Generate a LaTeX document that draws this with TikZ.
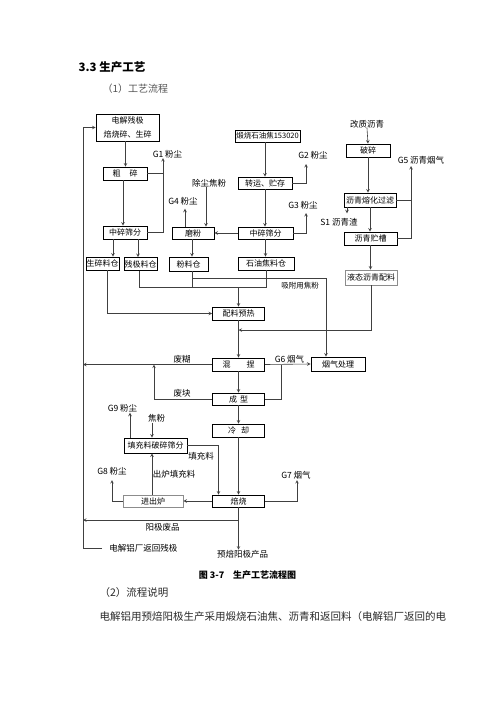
\documentclass[tikz,border=0pt]{standalone}
\usepackage{fontspec}
\setmainfont{Noto Sans CJK SC}
\usetikzlibrary{positioning}
\definecolor{FlowLine}{HTML}{404040}
\definecolor{FlowPale}{HTML}{8C8C8C}
\definecolor{HeadGray}{HTML}{555555}
\definecolor{BodyGray}{HTML}{2A2A2A}
\begin{document}
\begin{tikzpicture}[>=stealth,x=1pt,y=-1pt,line width=0.6pt]
  \tikzstyle{proc}=[draw,line width=0.7pt,inner sep=0pt,minimum height=13pt,
    align=center,font=\fontsize{8}{10}\selectfont]
  \tikzstyle{pale}=[proc,draw=FlowPale]
  \tikzstyle{lbl}=[inner sep=0pt,font=\fontsize{8.5}{10}\selectfont]
  \tikzstyle{flow}=[->,color=FlowLine]
  \tikzstyle{link}=[color=FlowLine]
  \fill[white] (0,0) rectangle (496,702);
  \useasboundingbox (0,0) rectangle (496,702);

  % page text
  \node[anchor=west,font=\fontsize{11.5}{13}\selectfont\bfseries] (head) at (75,67) {3.3\ 生产工艺};
  \node[anchor=west,text=HeadGray,font=\fontsize{10}{12}\selectfont] (sub1) at (99,89) {（1）工艺流程};
  \node[font=\fontsize{9}{11}\selectfont\bfseries] (cap) at (247.5,575) {图 3-7\quad 生产工艺流程图};
  \node[anchor=west,text=BodyGray,font=\fontsize{10.5}{12}\selectfont] (sub2) at (96,593) {（2）流程说明};
  \node[anchor=west,text=BodyGray,font=\fontsize{10.5}{12}\selectfont] (para) at (96,617)
    {电解铝用预焙阳极生产采用煅烧石油焦、沥青和返回料（电解铝厂返回的电};

  % process boxes
  \node[proc,minimum width=63pt,minimum height=27pt,font=\fontsize{8}{14}\selectfont] (cj) at (127.5,127.5) {电解残极\\焙烧碎、生碎};
  \node[proc,minimum width=44pt] (cs) at (125,173.5) {粗\hspace{9pt}碎};
  \node[proc,minimum width=44pt] (zsa) at (125,232.5) {中碎筛分};
  \node[proc,minimum width=33pt] (scc) at (102.5,263.5) {生碎料仓};
  \node[proc,minimum width=33pt] (cjc) at (140.5,264) {残极料仓};
  \node[proc,minimum width=42pt,minimum height=12pt] (mf) at (193,233) {磨粉};
  \node[proc,minimum width=39pt,minimum height=14pt] (flc) at (188.5,264) {粉料仓};
  \node[proc,minimum width=65pt,minimum height=12pt,font=\fontsize{7.5}{9}\selectfont] (dsj) at (267.5,136) {煅烧石油焦153020};
  \node[proc,minimum width=54pt,minimum height=12pt] (zy) at (265,183) {转运、贮存};
  \node[proc,minimum width=55pt,minimum height=12pt] (zsb) at (265.5,233) {中碎筛分};
  \node[proc,minimum width=56pt] (syj) at (266,263.5) {石油焦料仓};
  \node[proc,minimum width=44pt] (ps) at (368,150.5) {破碎};
  \node[proc,minimum width=52pt,minimum height=14pt] (rhl) at (370,200) {沥青熔化过滤};
  \node[proc,minimum width=53pt] (lqc) at (370.5,238.5) {沥青贮槽};
  \node[pale,minimum width=52pt,minimum height=15pt] (ytl) at (371,277.5) {液态沥青配料};
  \node[proc,minimum width=52pt] (plr) at (238.5,313.5) {配料预热};
  \node[proc,minimum width=52pt] (hn) at (238.5,364.5) {混\hspace{16pt}捏};
  \node[proc,minimum width=54pt,minimum height=14pt] (yqc) at (338,364) {烟气处理};
  \node[proc,minimum width=52pt,minimum height=12pt] (cx) at (238.5,399) {成\hspace{3pt}型};
  \node[proc,minimum width=52pt] (lque) at (238.5,430.5) {冷\hspace{5pt}却};
  \node[proc,minimum width=52pt,minimum height=12pt] (bs) at (238.5,501) {焙烧};
  \node[pale,minimum width=60pt,minimum height=12pt] (jcl) at (153,501) {进出炉};
  \node[proc,minimum width=63pt,minimum height=15pt] (tcs) at (155.5,445.5) {填充料破碎筛分};

  % labels
  \node[lbl] (gzq) at (367,124) {改质沥青};
  \node[lbl] (g1t) at (167.5,154) {G1 粉尘};
  \node[lbl] (g2t) at (313,155) {G2 粉尘};
  \node[lbl] (g3t) at (303,205) {G3 粉尘};
  \node[lbl] (g4t) at (183,201) {G4 粉尘};
  \node[lbl] (g5t) at (421,160) {G5 沥青烟气};
  \node[lbl] (ccj) at (209,183) {除尘焦粉};
  \node[lbl] (s1t) at (339,222) {S1 沥青渣};
  \node[lbl,font=\fontsize{7.5}{9}\selectfont] (adt) at (300,286) {吸附用焦粉};
  \node[lbl] (fht) at (182,359) {废糊};
  \node[lbl] (g6t) at (289.5,359) {G6 烟气};
  \node[lbl] (fkt) at (182,393) {废块};
  \node[lbl] (g9t) at (122.5,408) {G9 粉尘};
  \node[lbl] (jf) at (156.5,418.5) {焦粉};
  \node[lbl] (tct) at (201,456) {填充料};
  \node[lbl] (g8t) at (112,471) {G8 粉尘};
  \node[lbl] (clt) at (174,474) {出炉填充料};
  \node[lbl] (g7t) at (296,475) {G7 烟气};
  \node[lbl] (fpt) at (162.5,527) {阳极废品};
  \node[lbl,anchor=west] (fh) at (109,548) {电解铝厂返回残极};
  \node[lbl] (cp) at (242.5,554) {预焙阳极产品};

  % free ends and junctions
  \coordinate (L) at (83,548);
  \coordinate (g1) at (163,158);
  \coordinate (g2) at (306,164);
  \coordinate (g3) at (306,213);
  \coordinate (g5) at (411,166);
  \coordinate (g7) at (297,480);
  \coordinate (g8) at (112,480);
  \coordinate (bus) at (238.5,287);
  \coordinate (ads) at (192,278);
  \coordinate (jn) at (238.5,330);
  \coordinate (g6j) at (281,364.5);
  \coordinate (fk) at (154,364.5);
  \coordinate (fp) at (238.5,520);

  % anode scrap return and coarse crushing
  \draw[flow] ([xshift=-7pt]fh.west) -- (L) |- (cj.west);
  \draw[flow] ([xshift=-2pt]cj.south) -- ([xshift=-2pt]cj.south |- cs.north);
  \draw[flow] ([xshift=-2pt]cs.south) -- ([xshift=-2pt]cs.south |- zsa.north);
  \draw[link] (cs.east) -- (cs.east -| g1);
  \draw[flow] (zsa.east) -| (g1);
  \draw[flow] ([xshift=-12pt]zsa.south) -- ([xshift=-12pt]zsa.south |- scc.north);
  \draw[flow] ([xshift=13pt]zsa.south) -- ([xshift=13pt]zsa.south |- cjc.north);

  % coke line
  \draw[flow] (zy.north |- dsj.south) -- (zy.north);
  \draw[flow] (zy.east) -| (g2);
  \draw[flow] (zy.south) -- (zy.south |- zsb.north);
  \draw[flow] (zsb.east) -| (g3);
  \draw[flow] (zsb.south) -- (zsb.south |- syj.north);
  \draw[flow] (zsb.west) -- (mf.east);
  \draw[flow] ([xshift=-8pt]mf.north) -- ++(0,-18);
  \draw[flow] ([xshift=13pt]mf.north |- ccj.south) -- ([xshift=13pt]mf.north);
  \draw[flow] ([xshift=-1pt]mf.south) -- ([xshift=-1pt]mf.south |- flc.north);

  % pitch line
  \draw[flow] (gzq.south) -- (ps.north);
  \draw[flow] (ps.south) -- (ps.south |- rhl.north);
  \draw[link] (rhl.east) -- (rhl.east -| g5);
  \draw[flow] (lqc.east) -| (g5);
  \draw[flow] ([xshift=-23pt]rhl.south) -- ++(0,6);
  \draw[flow] (rhl.south) -- (rhl.south |- lqc.north);
  \draw[flow] (lqc.south) -- (lqc.south |- ytl.north);
  \draw[flow] (ytl.south) |- (jn);

  % batching
  \draw[flow] ([xshift=4.5pt]scc.south) |- (plr.west);
  \draw[link] ([xshift=-1.5pt]cjc.south) |- (bus -| syj.south) -- (syj.south);
  \draw[link] ([xshift=3.5pt]flc.south) -- ([xshift=3.5pt]flc.south |- bus);
  \draw[flow] (bus) -- (bus |- plr.north);
  \draw[flow] (ads) -| ([xshift=-12pt]yqc.north);

  % mixing, forming, baking
  \draw[flow] (plr.south) -- (hn.north);
  \draw[flow] (hn.east) -- (yqc.west);
  \draw[link] (cx.east) -| (g6j);
  \draw[flow] (hn.west) -- (hn.west -| L);
  \draw[flow] (cx.west) -| (fk);
  \draw[flow] (hn.south) -- (cx.north);
  \draw[flow] (cx.south) -- (lque.north);
  \draw[flow] (lque.south) -- (bs.north);
  \draw[flow] (bs.east) -| (g7);
  \draw[flow] (bs.west) -- (jcl.east);
  \draw[flow] (jcl.west) -| (g8);
  \draw[flow] ([xshift=-1pt]jcl.north) -- ([xshift=-1pt]jcl.north |- tcs.south);
  \draw[flow] ([xshift=-25.5pt]tcs.north) -- ++(0,-25);
  \draw[flow] ([xshift=-3.5pt]tcs.north |- jf.south) -- ([xshift=-3.5pt]tcs.north);
  \draw[flow] (tcs.east) -| ([xshift=-20pt]bs.north);
  \draw[flow] (bs.south) -- (bs.south |- cp.north);
  \draw[flow] (fp) -- (fp -| L);
\end{tikzpicture}
\end{document}
